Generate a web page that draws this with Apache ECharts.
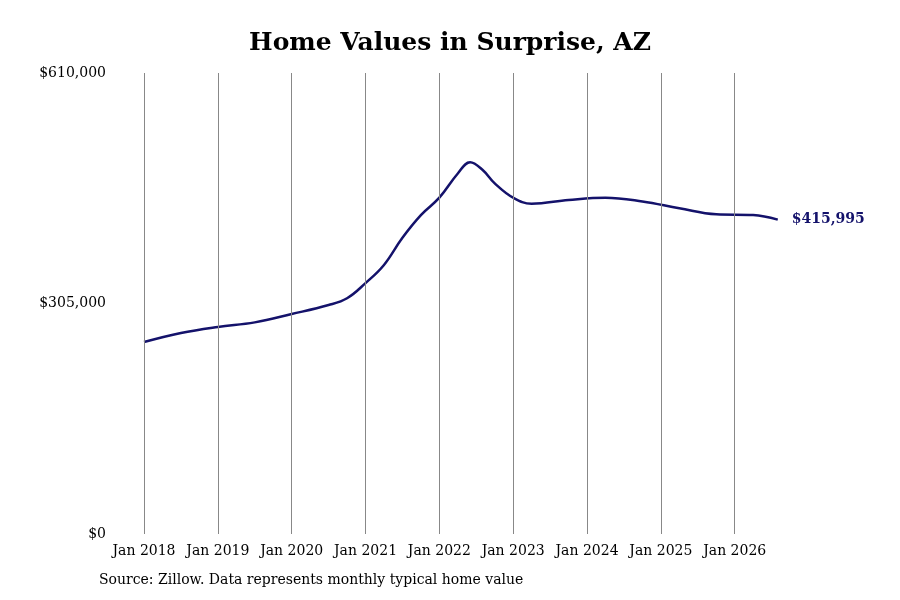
<!DOCTYPE html>
<html><head><meta charset="utf-8">
<script src="https://cdn.jsdelivr.net/npm/echarts@6/dist/echarts.min.js"></script>
<style>html,body{margin:0;padding:0;background:#fff}#c{width:900px;height:600px}</style>
</head><body><div id="c"></div>
<script>
const months = ["2018-01","2018-07","2019-01","2019-07","2020-01","2020-07","2020-10","2021-01","2021-04","2021-07","2021-10","2022-01","2022-04","2022-06","2022-08","2022-10","2023-01","2023-04","2023-10","2024-04","2024-10","2025-04","2025-10","2026-04","2026-08"];
const values = [254000,266000,274000,280000,291000,303000,312000,332000,356000,392000,422000,445000,477000,492000,482000,464000,445000,437000,442000,445000,440000,431000,423000,422000,415995];
const yearLines = [2018,2019,2020,2021,2022,2023,2024,2025,2026];
const toYear = s => { const [y,m] = s.split('-').map(Number); return y + (m-1)/12; };
const data = months.map((m,i)=>[toYear(m), values[i]]);
const font = "DejaVu Serif";
const chart = echarts.init(document.getElementById('c'));
chart.setOption({
  animation:false,
  title:{text:'Home Values in Surprise, AZ',left:'center',top:26,textStyle:{fontFamily:font,fontSize:25,fontWeight:'bold',color:'#000'}},
  graphic:[{type:'text',left:99,top:573,style:{text:'Source: Zillow. Data represents monthly typical home value',fontFamily:font,fontSize:14,fill:'#000'}}],
  grid:{left:144,right:121,top:73,bottom:66},
  xAxis:{type:'value',min:2018,max:2026.6,interval:1,
    axisLine:{show:false},axisTick:{show:false},splitLine:{show:false},
    axisLabel:{fontFamily:font,fontSize:14,color:'#000',margin:10,showMaxLabel:false,formatter:v=>Number.isInteger(v)?'Jan '+v:''}},
  yAxis:{type:'value',min:0,max:610000,interval:305000,
    axisLine:{show:false},axisTick:{show:false},splitLine:{show:false},
    axisLabel:{fontFamily:font,fontSize:14,color:'#000',margin:38,formatter:v=>'$'+v.toLocaleString('en-US')}},
  series:[{type:'line',data:data,smooth:0.4,showSymbol:false,z:3,
    lineStyle:{color:'#14126b',width:2.5},
    markLine:{silent:true,symbol:['none','none'],label:{show:false},lineStyle:{color:'#888',width:1,type:'solid'},
      data:yearLines.map(y=>({xAxis:y}))},
    endLabel:{show:true,formatter:p=>'$'+p.value[1].toLocaleString('en-US'),fontFamily:font,fontSize:14,fontWeight:'bold',color:'#14126b',distance:14}}]
});
</script></body></html>
